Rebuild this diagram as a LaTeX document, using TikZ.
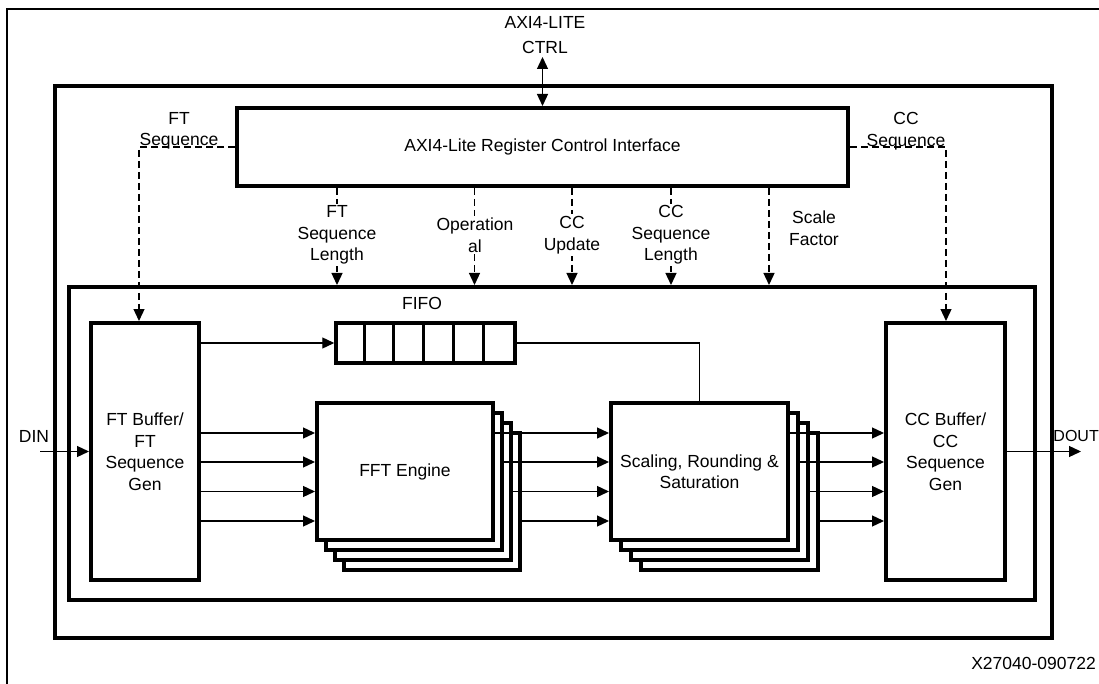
\documentclass[tikz,border=0pt]{standalone}
\usepackage{fontspec}
\setmainfont{Liberation Sans}
\usetikzlibrary{arrows.meta,calc}
\begin{document}
\begin{tikzpicture}[x=1pt,y=-1pt,
  font=\fontsize{17.5}{21.5}\selectfont,
  thickbox/.style={draw,line width=4pt,fill=white,inner sep=0pt,align=center},
  conn/.style={line width=1.3pt,-{Triangle[length=12pt,width=11pt]}},
  dconn/.style={conn,dash pattern=on 7pt off 4pt},
  lbl/.style={align=center,inner sep=2pt},
  wlbl/.style={lbl,fill=white},
]
\useasboundingbox (0,0) rectangle (1099,684);
% outer thin frame
\coordinate (fbl) at (7,684);
\coordinate (ftl) at (7,9);
\coordinate (ftr) at (1099,9);
\draw[line width=1.5pt] (fbl) -- (ftl) -- (ftr);

% main boxes
\node[thickbox,minimum width=997pt,minimum height=552pt] (main) at (553.5,362) {};
\node[thickbox,minimum width=611pt,minimum height=78pt] (reg) at (542.5,147) {AXI4-Lite Register Control Interface};
\node[thickbox,minimum width=966pt,minimum height=313pt] (inner) at (552,443.5) {};
\node[thickbox,minimum width=108pt,minimum height=257pt] (ftb) at (145,451.5) {FT Buffer/\\FT\\Sequence\\Gen};
\node[thickbox,minimum width=119pt,minimum height=257pt] (ccb) at (945.5,451.5) {CC Buffer/\\CC\\Sequence\\Gen};

% FIFO
\node[thickbox,line width=3.5pt,minimum width=179pt,minimum height=40pt] (fifo) at (425.5,343) {};
\foreach \k in {1,...,5}{
  \draw[line width=3pt] ($(fifo.north west)+(\k*179/6,0)$) -- ($(fifo.south west)+(\k*179/6,0)$);
}
\node[lbl] (fifol) at (422,303) {FIFO};

% stacks
\foreach \k in {3,2,1}{
  \node[thickbox,minimum width=176pt,minimum height=137pt] (fft\k) at (405+9*\k,471.5+10*\k) {};
  \node[thickbox,minimum width=177pt,minimum height=137pt] (scl\k) at (699.5+10*\k,471.5+10*\k) {};
}
\node[thickbox,minimum width=176pt,minimum height=137pt] (fft0) at (405,471.5) {FFT Engine};
\node[thickbox,minimum width=177pt,minimum height=137pt] (scl0) at (699.5,471.5) {Scaling, Rounding \&\\Saturation};

% rows
\coordinate (r1) at (0,433);
\coordinate (r2) at (0,462);
\coordinate (r3) at (0,491.5);
\coordinate (r4) at (0,521);

\foreach \r in {1,...,4}{
  \draw[conn] (ftb.east |- r\r) -- (fft0.west |- r\r);
}
\draw[conn] (fft0.east |- r1) -- (scl0.west |- r1);
\draw[conn] (fft1.east |- r2) -- (scl0.west |- r2);
\draw[conn] (fft2.east |- r3) -- (scl0.west |- r3);
\draw[conn] (fft3.east |- r4) -- (scl0.west |- r4);
\draw[conn] (scl0.east |- r1) -- (ccb.west |- r1);
\draw[conn] (scl1.east |- r2) -- (ccb.west |- r2);
\draw[conn] (scl2.east |- r3) -- (ccb.west |- r3);
\draw[conn] (scl3.east |- r4) -- (ccb.west |- r4);

% FIFO connections
\draw[conn] (ftb.east |- fifo.west) -- (fifo.west);
\draw[line width=1.3pt] (fifo.east) -| (scl0.north);

% DIN / DOUT
\coordinate (din) at (40,451.5);
\coordinate (dout) at (1081,451.5);
\draw[conn] (din) -- (ftb.west |- din);
\draw[conn] (ccb.east |- dout) -- (dout);
\node[lbl] (dinl) at (34,436) {DIN};
\node[lbl,anchor=east,inner sep=0pt,font=\fontsize{16}{19}\selectfont] (doutl) at (1099,436) {DOUT};

% AXI ctrl
\node[lbl] (ctrl) at (545,35) {AXI4-LITE\\[3pt]CTRL};
\coordinate (ctrlp) at (542.5,57);
\draw[conn,{Triangle[length=12pt,width=11pt]}-{Triangle[length=12pt,width=11pt]}] (ctrlp) -- (reg.north);

% FT / CC sequence
\coordinate (fts) at (139,147);
\coordinate (ccs) at (946,147);
\draw[dconn] (reg.west) -- (fts) -- (ftb.north -| fts);
\draw[dconn] (reg.east) -- (ccs) -- (ccb.north -| ccs);
\node[lbl,inner sep=0pt] (ftsl) at (179,131) {FT\\Sequence};
\node[lbl,inner sep=0pt] (ccsl) at (906,131) {CC\\Sequence};

% control signals
\foreach \n/\x in {d1/337,d2/474.5,d3/572,d4/671,d5/769}{
  \coordinate (\n) at (\x,0);
  \draw[dconn] (reg.south -| \n) -- (inner.north -| \n);
}
\node[wlbl] (l1) at (337,235) {FT\\Sequence\\Length};
\node[wlbl] (l2) at (475,235) {Operation\\al};
\node[wlbl] (l3) at (572,235) {CC\\Update};
\node[wlbl] (l4) at (671,235) {CC\\Sequence\\Length};
\node[lbl] (l5) at (814,228) {Scale\\Factor};

% figure id
\node[lbl,anchor=east,inner sep=0pt] (fid) at (1096,663) {X27040-090722};
\end{tikzpicture}
\end{document}
